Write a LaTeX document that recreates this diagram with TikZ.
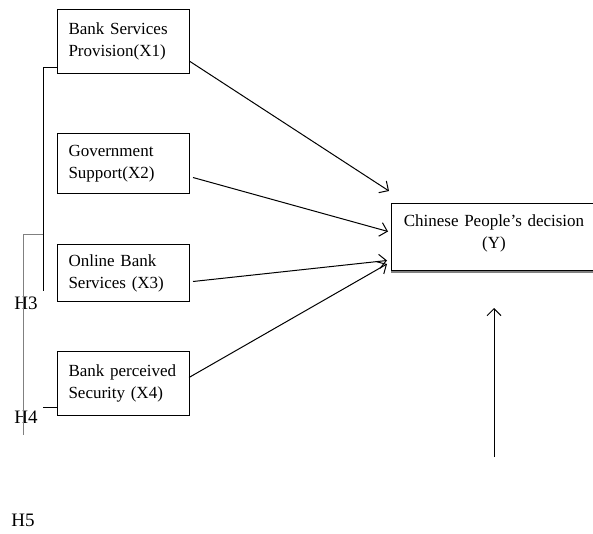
\documentclass[tikz,border=0pt]{standalone}
\usepackage{fontspec}
\setmainfont{Liberation Serif}
\usetikzlibrary{arrows.meta, positioning}

\begin{document}
\begin{tikzpicture}[
        x=1pt, y=-1pt,
        factor/.style={rectangle, draw, line width=1pt, text width=110pt, align=left, inner xsep=11pt, inner ysep=0pt, font=\fontsize{17pt}{22pt}\selectfont},
        outcome/.style={rectangle, draw, line width=1pt, text width=183pt, align=center, inner xsep=11pt, inner ysep=0pt, minimum height=67pt, text depth=32pt, font=\fontsize{17pt}{22pt}\selectfont},
        hlabel/.style={inner sep=0pt, font=\fontsize{19pt}{22pt}\selectfont},
        link/.style={draw, line width=1pt, -{Straight Barb[length=7pt, width=14pt]}},
        bracket/.style={draw, line width=1pt}
    ]
    \path[use as bounding box, clip] (0,0) rectangle (593,534);

    % Nodes
    \node [factor, minimum height=64pt, anchor=north west] (x1) at (57,9) {Bank Services Provision(X1)};
    \node [factor, minimum height=60pt, below=59pt of x1] (x2) {Government Support(X2)};
    \node [factor, minimum height=57pt, below=50pt of x2] (x3) {Online Bank Services (X3)};
    \node [factor, minimum height=64pt, below=49pt of x3] (x4) {Bank perceived Security (X4)};
    \node [outcome, anchor=north west] (decision) at (391,203) {Chinese People’s decision\\(Y)};
    \draw [gray, line width=1.4pt] ([yshift=-1.1pt]decision.south west) -- ([yshift=-1.1pt]decision.south east);

    % Hypothesis labels
    \node [hlabel] (h3) at (26,303) {H3};
    \node [hlabel] (h4) at (26,417) {H4};
    \node [hlabel] (h5) at (23,520) {H5};

    % Paths
    \path [link] ([yshift=-20pt]x1.east) -- ([shift={(-2pt,12pt)}]decision.north west);
    \path [link] ([shift={(3pt,-14pt)}]x2.east) -- ([shift={(-3pt,5.5pt)}]decision.west);
    \path [link] ([shift={(3pt,-8.5pt)}]x3.east) -- ([shift={(-4pt,-23.5pt)}]decision.west);
    \path [link] ([shift={(-1pt,6pt)}]x4.east) -- ([shift={(-4pt,7pt)}]decision.south west);
    \coordinate (h5base) at ([yshift=-186pt]decision.south);
    \path [link] (h5base) -- ([yshift=-37pt]decision.south);

    % Brackets
    \path [bracket] ([yshift=6pt]x1.south west) -- ++(-14,0) -- ++(0,223);
    \coordinate (join) at (43,235);
    \path [bracket, gray] (join) -- ++(-20,0) -- ++(0,200);
    \path [bracket] ([yshift=9pt]x4.south west) -- ++(-14,0);
\end{tikzpicture}
\end{document}
